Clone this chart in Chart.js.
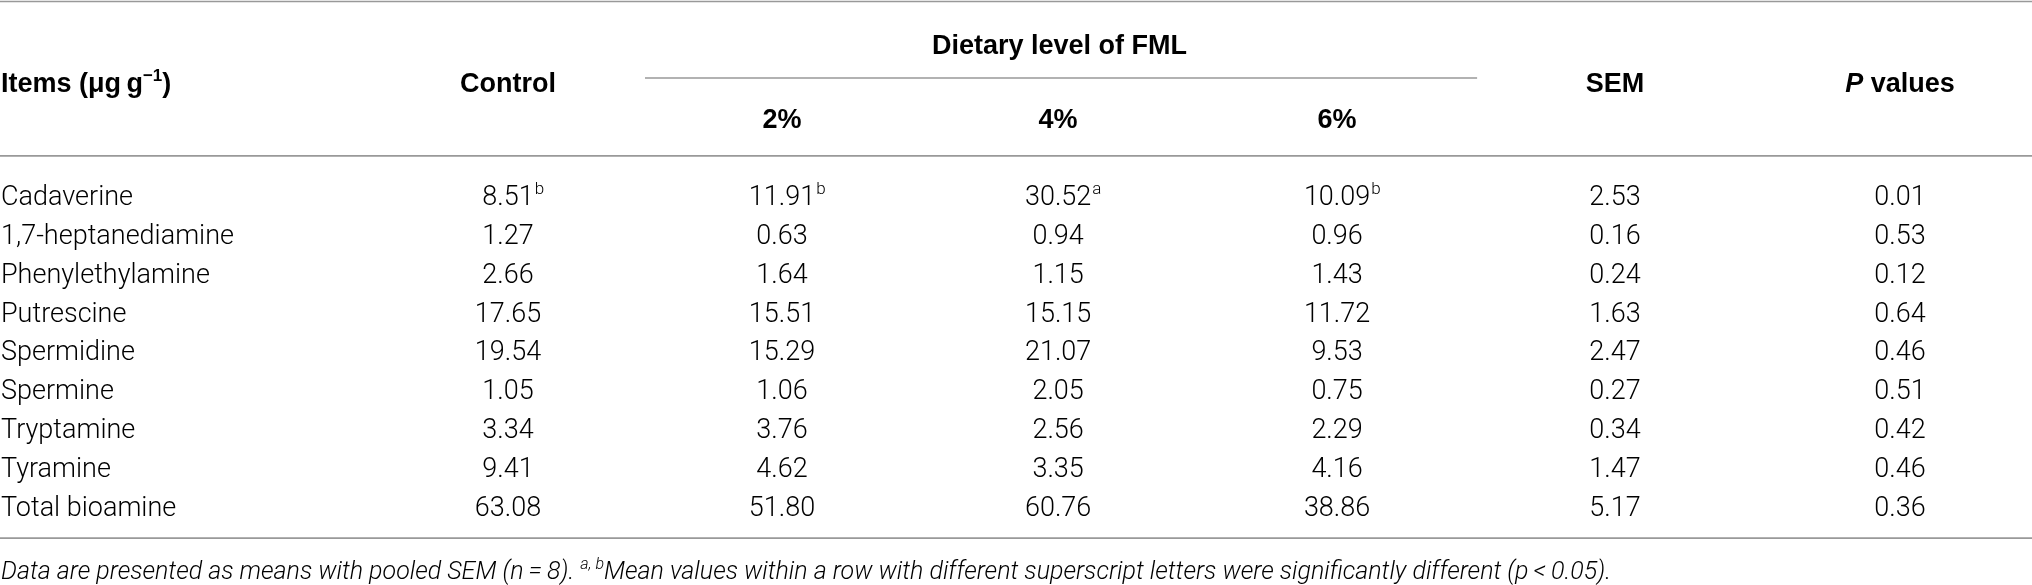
<!DOCTYPE html>
<html>
<head>
<meta charset="utf-8">
<script src="https://cdn.jsdelivr.net/npm/chart.js@4/dist/chart.umd.min.js"></script>
<style>
  html, body { margin: 0; padding: 0; background: #fff; }
  #wrap { width: 2032px; height: 585px; position: relative; }
</style>
</head>
<body>
<div id="wrap"><canvas id="myChart"></canvas></div>
<script>
// Table data
var items = ["Cadaverine", "1,7-heptanediamine", "Phenylethylamine", "Putrescine",
  "Spermidine", "Spermine", "Tryptamine", "Tyramine", "Total bioamine"];
var columns = ["Control", "2%", "4%", "6%", "SEM", "P values"];

var control = [8.51, 1.27, 2.66, 17.65, 19.54, 1.05, 3.34, 9.41, 63.08];
var fml2 = [11.91, 0.63, 1.64, 15.51, 15.29, 1.06, 3.76, 4.62, 51.80];
var fml4 = [30.52, 0.94, 1.15, 15.15, 21.07, 2.05, 2.56, 3.35, 60.76];
var fml6 = [10.09, 0.96, 1.43, 11.72, 9.53, 0.75, 2.29, 4.16, 38.86];
var sem = [2.53, 0.16, 0.24, 1.63, 2.47, 0.27, 0.34, 1.47, 5.17];
var pValues = [0.01, 0.53, 0.12, 0.64, 0.46, 0.51, 0.42, 0.46, 0.36];

// superscript letters, per row, per column
var superscripts = { "Cadaverine": ["b", "b", "a", "b", "", ""] };

var columnValues = [control, fml2, fml4, fml6, sem, pValues];

// layout: where each column sits on the x scale (column units)
var columnSlots = [0, 0.984, 1.976, 2.978, 3.976, 5];

var BODY = "300 27px Roboto, 'Liberation Sans', sans-serif";
var BODY_SUP = "300 17px Roboto, 'Liberation Sans', sans-serif";
var HEAD = "bold 27px 'Liberation Sans', Arial, sans-serif";
var HEAD_IT = "italic bold 27px 'Liberation Sans', Arial, sans-serif";
var HEAD_SUP = "bold 17px 'Liberation Sans', Arial, sans-serif";
var NOTE = "italic 300 25px Roboto, 'Liberation Sans', sans-serif";
var NOTE_SUP = "italic 300 16px Roboto, 'Liberation Sans', sans-serif";
var RULE = "#999999";

// header rows, in row units of the y scale
var rowTopRule = -5.0, rowGroup = -3.9, rowGroupRule = -3.03,
    rowHead = -2.93, rowSubHead = -2.0, rowHeadRule = -1.02,
    rowBottomRule = 8.83, rowNote = 9.66;

// draws runs of text; sup runs are raised and smaller
function drawRuns(ctx, runs, x, y, align, size) {
  var total = 0;
  runs.forEach(function (r) { ctx.font = r.font; r.w = ctx.measureText(r.text).width; total += r.w; });
  var cx = align === "center" ? x - total / 2 : x;
  ctx.textAlign = "left";
  ctx.textBaseline = "alphabetic";
  var base = y + size * 0.36;
  runs.forEach(function (r) {
    ctx.font = r.font;
    ctx.fillText(r.text, cx, r.sup ? base - size * 0.4 : base);
    cx += r.w;
  });
}

function hline(ctx, x1, x2, y) {
  ctx.save();
  ctx.strokeStyle = RULE;
  ctx.lineWidth = 1.6;
  ctx.beginPath();
  ctx.moveTo(x1, y);
  ctx.lineTo(x2, y);
  ctx.stroke();
  ctx.restore();
}

var tablePlugin = {
  id: "tableText",
  afterDraw: function (chart) {
    var ctx = chart.ctx;
    var xs = chart.scales.x, ys = chart.scales.y;
    ctx.save();
    ctx.fillStyle = "#000";

    // rules
    hline(ctx, 0, chart.width, ys.getPixelForValue(rowTopRule));
    hline(ctx, xs.getPixelForValue(0.492), xs.getPixelForValue(3.481), ys.getPixelForValue(rowGroupRule));
    hline(ctx, 0, chart.width, ys.getPixelForValue(rowHeadRule));
    hline(ctx, 0, chart.width, ys.getPixelForValue(rowBottomRule));

    // header
    var yh = ys.getPixelForValue(rowHead);
    drawRuns(ctx, [
      { text: "Items (\u03bcg\u2009g", font: HEAD },
      { text: "\u22121", font: HEAD_SUP, sup: true },
      { text: ")", font: HEAD }
    ], 1, yh, "left", 27);
    drawRuns(ctx, [{ text: "Control", font: HEAD }], xs.getPixelForValue(columnSlots[0]), yh, "center", 27);
    drawRuns(ctx, [{ text: "SEM", font: HEAD }], xs.getPixelForValue(columnSlots[4]), yh, "center", 27);
    drawRuns(ctx, [{ text: "P", font: HEAD_IT }, { text: " values", font: HEAD }],
      xs.getPixelForValue(columnSlots[5]), yh, "center", 27);
    drawRuns(ctx, [{ text: "Dietary level of FML", font: HEAD }],
      xs.getPixelForValue((columnSlots[1] + columnSlots[3]) / 2), ys.getPixelForValue(rowGroup), "center", 27);
    for (var c = 1; c <= 3; c++) {
      drawRuns(ctx, [{ text: columns[c], font: HEAD }], xs.getPixelForValue(columnSlots[c]),
        ys.getPixelForValue(rowSubHead), "center", 27);
    }

    // row labels
    items.forEach(function (name, r) {
      drawRuns(ctx, [{ text: name, font: BODY }], 1, ys.getPixelForValue(r), "left", 27);
    });

    // cells, from the dataset points
    chart.data.datasets.forEach(function (ds, c) {
      var meta = chart.getDatasetMeta(c);
      meta.data.forEach(function (pt, r) {
        var raw = ds.data[r];
        var txt = raw.v.toFixed(2);
        ctx.font = BODY;
        var w = ctx.measureText(txt).width;
        drawRuns(ctx, [{ text: txt, font: BODY }], pt.x, pt.y, "center", 27);
        var sup = superscripts[raw.y] ? superscripts[raw.y][c] : "";
        if (sup) {
          drawRuns(ctx, [{ text: sup, font: BODY_SUP, sup: true }], pt.x + w / 2 + 1, pt.y, "left", 27);
        }
      });
    });

    // footnote
    drawRuns(ctx, [
      { text: "Data are presented as means with pooled SEM (n\u2009=\u20098). ", font: NOTE },
      { text: "a, b", font: NOTE_SUP, sup: true },
      { text: "Mean values within a row with different superscript letters were significantly different (p\u2009<\u20090.05).", font: NOTE }
    ], 1, ys.getPixelForValue(rowNote), "left", 25);

    ctx.restore();
  }
};

new Chart("myChart", {
  type: "scatter",
  data: {
    datasets: columnValues.map(function (vals, c) {
      return {
        label: columns[c],
        data: vals.map(function (v, r) { return { x: columnSlots[c], y: items[r], v: v }; }),
        pointRadius: 0,
        pointHoverRadius: 0
      };
    })
  },
  options: {
    responsive: true,
    maintainAspectRatio: false,
    animation: false,
    events: [],
    layout: { padding: { top: 195.5, bottom: 79.1, left: 508, right: 132 } },
    scales: {
      x: { type: "linear", min: 0, max: 5, display: false },
      y: { type: "category", labels: items, offset: false, display: false }
    },
    plugins: { legend: { display: false }, tooltip: { enabled: false } }
  },
  plugins: [tablePlugin]
});
</script>
</body>
</html>
